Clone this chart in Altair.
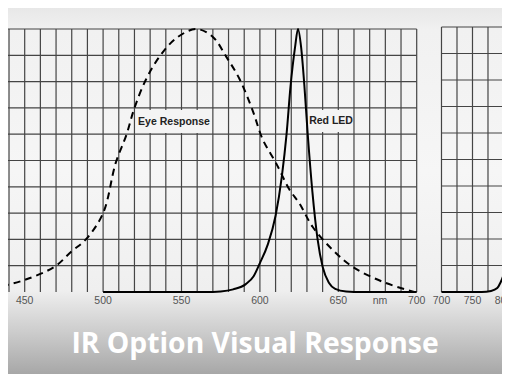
import altair as alt
import pandas as pd

# ---- data ----
eye_nm = [428, 434, 450, 469, 480, 489, 500, 508, 515, 520, 527.5, 536, 546.6, 559.4,
          570, 578.5, 587, 595.4, 601.8, 610.3, 618.8, 625.2, 633.6, 646.4, 659.1, 678.2, 698.4]
eye_v = [0.014, 0.02, 0.046, 0.096, 0.155, 0.2, 0.30, 0.49, 0.60, 0.70, 0.81, 0.895, 0.965, 1.0,
         0.97, 0.895, 0.81, 0.69, 0.58, 0.49, 0.39, 0.337, 0.248, 0.16, 0.096, 0.039, 0.0]

led_nm = [500, 565, 575, 583, 591, 596, 600, 605, 610, 614, 617, 619.5, 622.4, 624.3, 626.3,
          628.3, 630.5, 633.5, 636.8, 640, 644, 648, 655, 665, 700]
led_v = [0, 0, 0.002, 0.01, 0.03, 0.06, 0.11, 0.18, 0.29, 0.44, 0.60, 0.78, 0.93, 1.0, 0.93,
         0.79, 0.60, 0.38, 0.20, 0.096, 0.035, 0.012, 0.002, 0, 0]

ir_nm = [700, 765, 780, 790, 795, 800, 805, 810, 815]
ir_v = [0, 0, 0.004, 0.015, 0.035, 0.065, 0.12, 0.21, 0.32]

main_ticks = [450, 500, 550, 600, 650, 700]
right_ticks = [700, 750, 800]
main_grid_x = list(range(440, 701, 10))
right_grid_x = [700, 725, 750, 775, 800]
grid_y = [round(0.1 * i, 1) for i in range(1, 11)]
unit_label = "nm"
curve_labels = ["Eye Response", "Red LED"]
title_text = "IR Option Visual Response"

# ---- scales (map straight onto the 510x382 canvas) ----
xs_main = alt.Scale(domain=[434.25, 759.5], nice=False, zero=False)
xs_right = alt.Scale(domain=[-12.1, 810.5], nice=False, zero=False)
ys_main = alt.Scale(domain=[-0.3422, 1.1103], nice=False, zero=False)
ys_right = alt.Scale(domain=[-0.3396, 1.1019], nice=False, zero=False)

one = pd.DataFrame({"k": [0]})
GRID = "#454545"

bg = alt.Chart(one).mark_rect(
    fill=alt.LinearGradient(
        gradient="linear", x1=0, y1=0, x2=0, y2=1,
        stops=[
            alt.GradientStop(offset=0, color="#e4e4e4"),
            alt.GradientStop(offset=0.08, color="#f1f1f1"),
            alt.GradientStop(offset=0.45, color="#f6f6f6"),
            alt.GradientStop(offset=0.76, color="#efefef"),
            alt.GradientStop(offset=0.80, color="#e2e2e2"),
            alt.GradientStop(offset=0.87, color="#cccccc"),
            alt.GradientStop(offset=1.0, color="#a0a0a0"),
        ],
    )
).encode(x=alt.value(0), x2=alt.value(510), y=alt.value(0), y2=alt.value(382))

# main grid
vgrid = alt.Chart(pd.DataFrame({"x": main_grid_x})).mark_rule(color=GRID, strokeWidth=1.2).encode(
    x=alt.X("x:Q", scale=xs_main, axis=None),
    y=alt.Y(datum=0, scale=ys_main, axis=None),
    y2=alt.Y2(datum=1),
)
hgrid = alt.Chart(pd.DataFrame({"y": grid_y})).mark_rule(color=GRID, strokeWidth=1.2).encode(
    y=alt.Y("y:Q", scale=ys_main, axis=None),
    x=alt.X(datum=434.25, scale=xs_main, axis=None),
    x2=alt.X2(datum=700),
)

# right panel grid
rvgrid = alt.Chart(pd.DataFrame({"x": right_grid_x})).mark_rule(color=GRID, strokeWidth=1.2).encode(
    x=alt.X("x:Q", scale=xs_right, axis=None),
    y=alt.Y(datum=0, scale=ys_right, axis=None),
    y2=alt.Y2(datum=1),
)
rhgrid = alt.Chart(pd.DataFrame({"y": grid_y})).mark_rule(color=GRID, strokeWidth=1.2).encode(
    y=alt.Y("y:Q", scale=ys_right, axis=None),
    x=alt.X(datum=700, scale=xs_right, axis=None),
    x2=alt.X2(datum=820),
)

# label boxes
box1 = alt.Chart(one).mark_rect(fill="#f4f4f4").encode(
    x=alt.value(137), x2=alt.value(212), y=alt.value(110), y2=alt.value(133))
box2 = alt.Chart(one).mark_rect(fill="#f4f4f4").encode(
    x=alt.value(309), x2=alt.value(353), y=alt.value(110), y2=alt.value(132))

eye = alt.Chart(pd.DataFrame({"nm": eye_nm, "v": eye_v})).mark_line(
    color="black", strokeWidth=2, strokeDash=[7, 5], interpolate="catmull-rom").encode(
    x=alt.X("nm:Q", scale=xs_main, axis=None),
    y=alt.Y("v:Q", scale=ys_main, axis=None),
)
led = alt.Chart(pd.DataFrame({"nm": led_nm, "v": led_v})).mark_line(
    color="black", strokeWidth=2, interpolate="monotone").encode(
    x=alt.X("nm:Q", scale=xs_main, axis=None),
    y=alt.Y("v:Q", scale=ys_main, axis=None),
)
ir = alt.Chart(pd.DataFrame({"nm": ir_nm, "v": ir_v})).mark_line(
    color="black", strokeWidth=2, interpolate="monotone").encode(
    x=alt.X("nm:Q", scale=xs_right, axis=None),
    y=alt.Y("v:Q", scale=ys_right, axis=None),
)

lab1 = alt.Chart(one).mark_text(text=curve_labels[0], font="Liberation Sans", fontSize=10.5,
                                fontWeight="bold", color="#222222", align="center", baseline="middle").encode(
    x=alt.value(174), y=alt.value(122))
lab2 = alt.Chart(one).mark_text(text=curve_labels[1], font="Liberation Sans", fontSize=10.5,
                                fontWeight="bold", color="#222222", align="center", baseline="middle").encode(
    x=alt.value(331), y=alt.value(121))

tick_main = alt.Chart(pd.DataFrame({"t": main_ticks})).mark_text(
    font="Liberation Sans", fontSize=10.5, color="#555555", align="center", baseline="middle").encode(
    x=alt.X("t:Q", scale=xs_main, axis=None),
    y=alt.value(301),
    text="t:Q",
)
tick_right = alt.Chart(pd.DataFrame({"t": right_ticks})).mark_text(
    font="Liberation Sans", fontSize=10.5, color="#555555", align="center", baseline="middle").encode(
    x=alt.X("t:Q", scale=xs_right, axis=None),
    y=alt.value(301),
    text="t:Q",
)
unit = alt.Chart(one).mark_text(text=unit_label, font="Liberation Sans", fontSize=10.5,
                                color="#555555", align="center", baseline="middle").encode(
    x=alt.value(380), y=alt.value(301))

title = alt.Chart(one).mark_text(text=title_text, font="Open Sans", fontSize=28.3, fontWeight="bold",
                                 color="white", align="center", baseline="alphabetic").encode(
    x=alt.value(255), y=alt.value(353))

chart = alt.layer(
    bg, vgrid, hgrid, rvgrid, rhgrid, box1, box2, eye, led, ir, lab1, lab2,
    tick_main, tick_right, unit, title
).resolve_scale(x="independent", y="independent").properties(
    width=510, height=382,
    autosize=alt.AutoSizeParams(type="none"),
    padding={"left": -8, "top": -8, "right": -8, "bottom": -8},
    background="#eeeeee",
).configure_view(stroke=None)

chart.save("out.html", embed_options={"renderer": "svg", "actions": False})
